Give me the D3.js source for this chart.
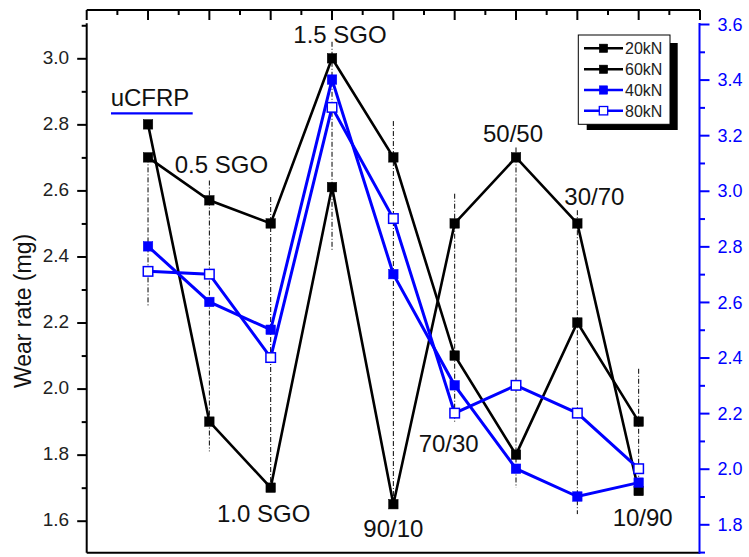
<!DOCTYPE html>
<html>
<head>
<meta charset="utf-8">
<script src="https://cdn.jsdelivr.net/npm/d3@7/dist/d3.min.js"></script>
<style>
  html, body { margin: 0; padding: 0; background: #fff; }
  svg { display: block; font-family: "Liberation Sans", Arial, sans-serif; }
</style>
</head>
<body>
<svg id="chart" width="749" height="557"></svg>
<script>
// Sample groups along the x direction
const categories = ["uCFRP", "0.5 SGO", "1.0 SGO", "1.5 SGO", "90/10", "70/30", "50/50", "30/70", "10/90"];

// Wear rate (mg), left axis
const wear20kN = [2.7, 2.57, 2.5, 3.0, 2.7, 2.1, 1.8, 2.2, 1.9];
const wear60kN = [2.8, 1.9, 1.7, 2.61, 1.65, 2.5, 2.7, 2.5, 1.69];

// Wear rate (mg), right axis
const wear40kN = [2.8, 2.6, 2.5, 3.4, 2.7, 2.3, 2.0, 1.9, 1.95];
const wear80kN = [2.71, 2.7, 2.4, 3.3, 2.9, 2.2, 2.3, 2.2, 2.0];

// Spread of each group (left-axis units), shown as dash-dot bars
const spreadHigh = [2.7, 2.63, 2.58, 3.05, 2.81, 2.59, 2.73, 2.54, 2.06];
const spreadLow  = [2.25, 1.81, 1.7, 2.42, 1.66, 1.9, 1.7, 1.62, 1.69];

// Axis ticks
const leftMajorTicks = [1.6, 1.8, 2.0, 2.2, 2.4, 2.6, 2.8, 3.0];
const leftMinorTicks = [1.7, 1.9, 2.1, 2.3, 2.5, 2.7, 2.9, 3.1];
const rightMajorTicks = [1.8, 2.0, 2.2, 2.4, 2.6, 2.8, 3.0, 3.2, 3.4, 3.6];
const rightMinorTicks = [1.7, 1.9, 2.1, 2.3, 2.5, 2.7, 2.9, 3.1, 3.3, 3.5];

const legendLabels = ["20kN", "60kN", "40kN", "80kN"];

const BLUE = "#0000ff";
const svg = d3.select("#chart");

const frame = { left: 86.7, right: 700, top: 10, bottom: 552.7 };

const x = d3.scaleLinear().domain([-1, 9]).range([frame.left, frame.right]);
const yL = d3.scaleLinear().domain([1.6, 3.0]).range([520.7, 58.3]);
const yR = d3.scaleLinear().domain([1.8, 3.6]).range([524.3, 24]);

// ---- frame: top and bottom lines
svg.append("line").attr("x1", frame.left).attr("x2", frame.right)
  .attr("y1", frame.top).attr("y2", frame.top)
  .attr("stroke", "#000").attr("stroke-width", 2);
svg.append("line").attr("x1", frame.left).attr("x2", frame.right)
  .attr("y1", frame.bottom).attr("y2", frame.bottom)
  .attr("stroke", "#000").attr("stroke-width", 2);

// top axis ticks (inward): long at whole positions, short at halves
const topMajor = d3.range(-1, 9.01, 1);
const topMinor = d3.range(-0.5, 8.6, 1);
svg.append("g").selectAll("line").data(topMajor).join("line")
  .attr("x1", d => x(d)).attr("x2", d => x(d))
  .attr("y1", frame.top).attr("y2", frame.top + 10)
  .attr("stroke", "#000").attr("stroke-width", 2);
svg.append("g").selectAll("line").data(topMinor).join("line")
  .attr("x1", d => x(d)).attr("x2", d => x(d))
  .attr("y1", frame.top).attr("y2", frame.top + 5)
  .attr("stroke", "#000").attr("stroke-width", 2);

// ---- left axis
const leftG = svg.append("g").attr("transform", `translate(${frame.left},0)`);
leftG.append("g").call(d3.axisLeft(yL).tickValues(leftMinorTicks).tickSize(5).tickFormat(""));
leftG.append("g").call(d3.axisLeft(yL).tickValues(leftMajorTicks).tickSize(9.5).tickPadding(8)
  .tickFormat(d3.format(".1f")));
leftG.selectAll(".domain").remove();
leftG.selectAll(".tick line").attr("stroke", "#000").attr("stroke-width", 2);
leftG.selectAll(".tick text").attr("fill", "#222").attr("font-size", 19)
  .attr("font-family", "Liberation Sans, Arial, sans-serif").attr("dy", "0.26em");
leftG.append("line").attr("x1", 0).attr("x2", 0).attr("y1", 23.3).attr("y2", frame.bottom)
  .attr("stroke", "#000").attr("stroke-width", 2);

// ---- right axis (blue)
const rightX = 699.5;
const rightG = svg.append("g").attr("transform", `translate(${rightX},0)`);
rightG.append("g").call(d3.axisRight(yR).tickValues(rightMinorTicks).tickSize(5.5).tickFormat(""));
rightG.append("g").call(d3.axisRight(yR).tickValues(rightMajorTicks).tickSize(10).tickPadding(8)
  .tickFormat(d3.format(".1f")));
rightG.selectAll(".domain").remove();
rightG.selectAll(".tick line").attr("stroke", BLUE).attr("stroke-width", 2);
rightG.selectAll(".tick text").attr("fill", BLUE).attr("font-size", 18)
  .attr("font-family", "Liberation Sans, Arial, sans-serif").attr("dy", "0.34em");
rightG.append("line").attr("x1", 0).attr("x2", 0).attr("y1", 23).attr("y2", frame.bottom + 1)
  .attr("stroke", BLUE).attr("stroke-width", 2);

// ---- y-axis title
svg.append("text")
  .attr("transform", "translate(31,311) rotate(-90)")
  .attr("text-anchor", "middle")
  .attr("font-size", 23).attr("fill", "#111")
  .text("Wear rate (mg)");

// ---- dash-dot spread bars
svg.append("g").selectAll("line").data(categories).join("line")
  .attr("x1", (d, i) => x(i)).attr("x2", (d, i) => x(i))
  .attr("y1", (d, i) => yL(spreadHigh[i])).attr("y2", (d, i) => yL(spreadLow[i]))
  .attr("stroke", "#000").attr("stroke-width", 1)
  .attr("stroke-dasharray", "5,2,1,2");

// ---- series
const series = [
  { name: "20kN", values: wear20kN, y: yL, color: "#000", open: false, width: 2.6 },
  { name: "60kN", values: wear60kN, y: yL, color: "#000", open: false, width: 2.6 },
  { name: "40kN", values: wear40kN, y: yR, color: BLUE, open: false, width: 3 },
  { name: "80kN", values: wear80kN, y: yR, color: BLUE, open: true, width: 3 }
];

const MARK = 9.5;
series.forEach(s => {
  const line = d3.line().x((d, i) => x(i)).y(d => s.y(d));
  svg.append("path").datum(s.values)
    .attr("d", line).attr("fill", "none")
    .attr("stroke", s.color).attr("stroke-width", s.width)
    .attr("stroke-linejoin", "miter");
});
series.forEach(s => {
  svg.append("g").selectAll("rect").data(s.values).join("rect")
    .attr("x", (d, i) => x(i) - MARK / 2)
    .attr("y", d => s.y(d) - MARK / 2)
    .attr("width", MARK).attr("height", MARK)
    .attr("fill", s.open ? "#fff" : s.color)
    .attr("stroke", s.color).attr("stroke-width", s.open ? 1.5 : 0.5);
});

// ---- group annotations
const notes = [
  { i: 0, text: "uCFRP", dx: 2, y: 106 },
  { i: 1, text: "0.5 SGO", dx: 12, y: 173 },
  { i: 2, text: "1.0 SGO", dx: -7, y: 521.5 },
  { i: 3, text: "1.5 SGO", dx: 8, y: 43 },
  { i: 4, text: "90/10", dx: 0, y: 537 },
  { i: 5, text: "70/30", dx: -6, y: 452 },
  { i: 6, text: "50/50", dx: -3, y: 141.5 },
  { i: 7, text: "30/70", dx: 17, y: 205 },
  { i: 8, text: "10/90", dx: 4, y: 525.5 }
];
svg.append("g").selectAll("text").data(notes).join("text")
  .attr("x", d => x(d.i) + d.dx).attr("y", d => d.y)
  .attr("text-anchor", "middle").attr("font-size", 24).attr("fill", "#111")
  .text(d => d.text);
// blue underline below the reference sample name
svg.append("line").attr("x1", 111).attr("x2", 192.7).attr("y1", 113.3).attr("y2", 113.3)
  .attr("stroke", BLUE).attr("stroke-width", 2.2);

// ---- legend
const lg = svg.append("g");
lg.append("rect").attr("x", 586.7).attr("y", 43).attr("width", 91).attr("height", 87).attr("fill", "#000");
lg.append("rect").attr("x", 578.3).attr("y", 35).attr("width", 91.7).attr("height", 89.3)
  .attr("fill", "#fff").attr("stroke", "#000").attr("stroke-width", 1);
const rows = [48.3, 69.3, 90, 110.7];
series.forEach((s, k) => {
  const ry = rows[k];
  lg.append("line").attr("x1", 584).attr("x2", 623).attr("y1", ry).attr("y2", ry)
    .attr("stroke", s.color).attr("stroke-width", 2.6);
  lg.append("rect").attr("x", 603.5 - 4.2).attr("y", ry - 4.2).attr("width", 8.4).attr("height", 8.4)
    .attr("fill", s.open ? "#fff" : s.color).attr("stroke", s.color).attr("stroke-width", s.open ? 1.3 : 0.5);
  lg.append("text").attr("x", 625).attr("y", ry + 5.8)
    .attr("font-size", 16).attr("fill", "#222").text(legendLabels[k]);
});
</script>
</body>
</html>
